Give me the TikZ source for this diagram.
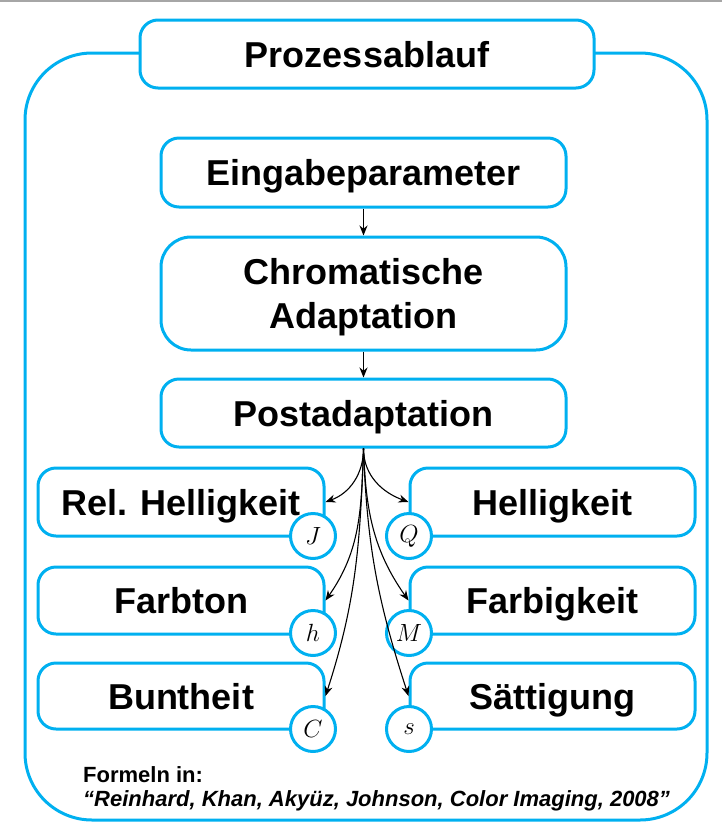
\documentclass[tikz,border=0pt]{standalone}
\usepackage{fontspec}
\setmainfont{Liberation Sans}
\usetikzlibrary{arrows.meta}
\definecolor{frameblue}{RGB}{0,176,240}
\begin{document}
\begin{tikzpicture}[x=1pt,y=-1pt,
  box/.style={draw=frameblue, line width=3pt, rounded corners=18pt, fill=white, align=center, font=\fontsize{36}{44}\selectfont\bfseries, inner sep=0pt, text depth=0pt},
  tag/.style={circle, draw=frameblue, line width=3pt, fill=white, minimum size=45pt, inner sep=0pt, font=\fontsize{23}{23}\selectfont},
  flow/.style={-{Stealth[length=10pt,width=8pt]}, line width=1.1pt, black},
  foot/.style={anchor=base west, inner sep=0pt, font=\fontsize{22}{22}\selectfont\bfseries}]
\useasboundingbox (0,0) rectangle (722,823);
\draw[gray!70, line width=1.5pt] (0,0.75) -- (722,0.75);
\node[draw=frameblue, line width=3pt, rounded corners=67pt, minimum width=682pt, minimum height=767pt, inner sep=0pt] (frame) at (366,436.5) {};
\node[box, minimum width=454pt, minimum height=68pt] (title) at (367,54) {Prozessablauf};
\node[box, minimum width=405pt, minimum height=69pt] (input) at (363.5,172.5) {Eingabeparameter};
\node[box, rounded corners=30pt, minimum width=405pt, minimum height=113pt] (chrom) at (363.5,293.5) {Chromatische\\Adaptation};
\node[box, minimum width=405pt, minimum height=68pt] (post) at (363.5,413) {Postadaptation};
\node[box, minimum width=286pt, minimum height=68pt] (rh) at (181,502) {Rel. Helligkeit};
\node[box, minimum width=286pt, minimum height=67pt] (fb) at (181,600.5) {Farbton};
\node[box, minimum width=286pt, minimum height=66pt] (bu) at (181,696) {Buntheit};
\node[box, minimum width=285pt, minimum height=68pt] (he) at (552.5,502) {Helligkeit};
\node[box, minimum width=285pt, minimum height=67pt] (fk) at (552.5,600.5) {Farbigkeit};
\node[box, minimum width=285pt, minimum height=66pt] (sa) at (552.5,696) {Sättigung};
\node[tag] (J) at (313,536) {$J$};
\node[tag] (h) at (313,633) {$h$};
\node[tag] (C) at (313,729) {$C$};
\node[tag] (Q) at (409,536) {$Q$};
\node[tag] (M) at (409,633) {$M$};
\node[tag] (s) at (409,729) {$s$};
\draw[flow] (input.south) -- (chrom.north);
\draw[flow] (chrom.south) -- (post.north);
\draw[flow] (post.south) to[out=-90,in=20] (rh.east);
\draw[flow] (post.south) to[out=-92,in=55] (fb.east);
\draw[flow] (post.south) to[out=-92,in=72] (bu.east);
\draw[flow] (post.south) to[out=-90,in=160] (he.west);
\draw[flow] (post.south) to[out=-88,in=125] (fk.west);
\draw[flow] (post.south) to[out=-88,in=108] (sa.west);
\node[foot] (f1) at (83,782) {Formeln in:};
\node[foot, font=\fontsize{22}{22}\selectfont\bfseries\itshape] (f2) at (83,806) {“Reinhard, Khan, Akyüz, Johnson, Color Imaging, 2008”};
\end{tikzpicture}
\end{document}
